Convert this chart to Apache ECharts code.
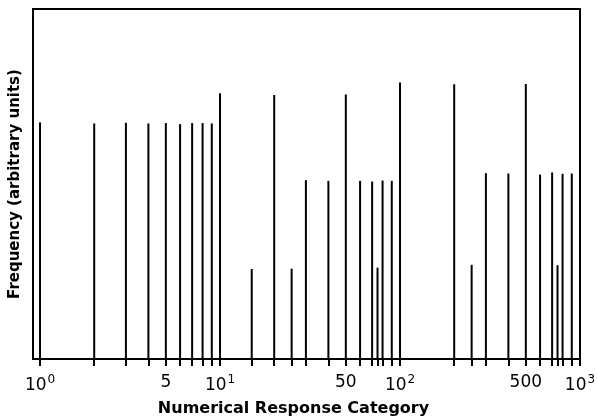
<!DOCTYPE html>
<html>
<head>
<meta charset="utf-8">
<script src="https://cdn.jsdelivr.net/npm/echarts@6/dist/echarts.min.js"></script>
<style>
  html, body { margin: 0; padding: 0; background: #fff; }
  #chart { width: 597px; height: 417px; }
</style>
</head>
<body>
<div id="chart"></div>
<script>
// response categories (log scale) and spike heights (arbitrary units)
var categories = [1, 2, 3, 4, 5, 6, 7, 8, 9, 10, 15, 20, 25, 30, 40, 50, 60, 70, 75, 80, 90,
                  100, 200, 250, 300, 400, 500, 600, 700, 750, 800, 900];
var frequency = [67.6, 67.3, 67.5, 67.3, 67.4, 67.1, 67.4, 67.4, 67.3, 75.9, 25.7, 75.4, 25.8,
                 51.1, 50.9, 75.6, 50.9, 50.7, 26.1, 51.0, 50.9,
                 79.0, 78.5, 26.9, 53.1, 53.0, 78.6, 52.7, 53.3, 26.8, 52.9, 53.0];
var labelValues = [1, 5, 10, 50, 100, 500, 1000];
var tickValues = categories.concat([1000]);

var spikeData = [];
for (var i = 0; i < categories.length; i++) {
    spikeData.push([categories[i], frequency[i]]);
}

function renderSpike(params, api) {
    var top = api.coord([api.value(0), api.value(1)]);
    var base = api.coord([api.value(0), 0]);
    return {
        type: 'line',
        shape: { x1: base[0], y1: base[1], x2: top[0], y2: top[1] },
        style: { stroke: '#000', lineWidth: 2 }
    };
}

var chart = echarts.init(document.getElementById('chart'));
var option = {
    animation: false,
    grid: {
        left: 33,
        top: 9,
        right: 17,
        bottom: 58,
        outerBoundsMode: 'none',
        containLabel: false,
        show: true,
        borderColor: '#000',
        borderWidth: 2
    },
    xAxis: {
        type: 'log',
        logBase: 10,
        min: 0.914,
        max: 1000,
        name: 'Numerical Response Category',
        nameLocation: 'middle',
        nameGap: 42,
        nameTextStyle: {
            fontFamily: 'DejaVu Sans',
            fontWeight: 'bold',
            fontSize: 16,
            color: '#000',
            padding: [0, 26, 0, 0]
        },
        axisLine: { lineStyle: { color: '#000', width: 2 } },
        axisTick: {
            customValues: tickValues,
            length: 7,
            inside: false,
            lineStyle: { color: '#000', width: 2 }
        },
        axisLabel: {
            customValues: labelValues,
            margin: 15,
            color: '#000',
            fontFamily: 'DejaVu Sans',
            fontSize: 17,
            formatter: function (v) {
                if (v === 1) return '{b|10}{s|0}';
                if (v === 10) return '{b|10}{s|1}';
                if (v === 100) return '{b|10}{s|2}';
                if (v === 1000) return '{b|10}{s|3}';
                return '{b|' + v + '}';
            },
            rich: {
                b: { fontFamily: 'DejaVu Sans', fontSize: 17, color: '#000' },
                s: { fontFamily: 'DejaVu Sans', fontSize: 12, color: '#000', verticalAlign: 'top', padding: [0, 0, 12, 1] }
            }
        },
        splitLine: { show: false },
        minorTick: { show: false }
    },
    yAxis: {
        type: 'value',
        min: 0,
        max: 100,
        name: 'Frequency (arbitrary units)',
        nameLocation: 'middle',
        nameGap: 10,
        nameTextStyle: {
            fontFamily: 'DejaVu Sans',
            fontWeight: 'bold',
            fontSize: 15,
            color: '#000'
        },
        axisLine: { show: false },
        axisTick: { show: false },
        axisLabel: { show: false },
        splitLine: { show: false }
    },
    series: [
        {
            name: 'Frequency',
            type: 'custom',
            renderItem: renderSpike,
            encode: { x: 0, y: 1 },
            data: spikeData
        }
    ]
};
chart.setOption(option);
</script>
</body>
</html>
